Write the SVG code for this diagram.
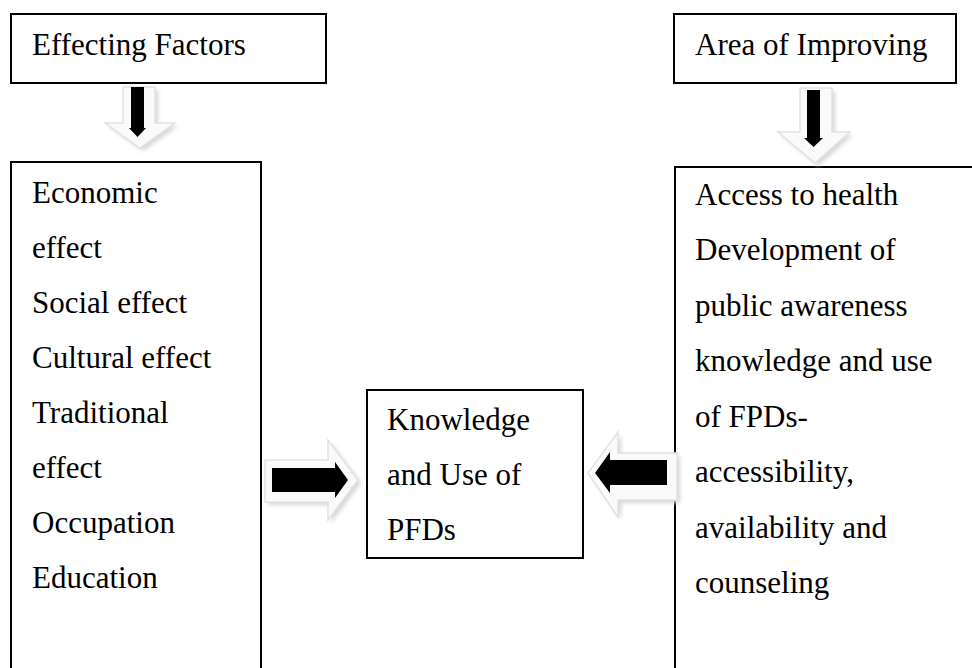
<svg xmlns="http://www.w3.org/2000/svg" width="972" height="668" viewBox="0 0 972 668">
<defs>
<style>
.box{fill:#fff;stroke:#000;stroke-width:2}
text{font-family:'Liberation Serif','Times New Roman',Times,serif;font-size:31px;fill:#000}
.outer{fill:#fafafa;stroke:#e2e2e2;stroke-width:1.5}
.shadow{fill:#d6d6d6;filter:url(#blur)}
.inner{fill:#000}
</style>
<filter id="blur" x="-20%" y="-20%" width="140%" height="140%"><feGaussianBlur stdDeviation="2"/></filter>
</defs>
<rect width="972" height="668" fill="#fff"/>
<g font-family="Liberation Serif, Times New Roman, serif" font-size="31">
<g id="effecting-factors">
<rect class="box" x="11" y="14" width="315" height="69"/>
<text x="32" y="55">Effecting Factors</text>
</g>
<g id="area-of-improving">
<rect class="box" x="674" y="14" width="282" height="69"/>
<text x="695" y="55">Area of Improving</text>
</g>
<g id="factors-list">
<rect class="box" x="11" y="162" width="250" height="520"/>
<text x="32" y="203">Economic</text>
<text x="32" y="258">effect</text>
<text x="32" y="313">Social effect</text>
<text x="32" y="368">Cultural effect</text>
<text x="32" y="423">Traditional</text>
<text x="32" y="478">effect</text>
<text x="32" y="533">Occupation</text>
<text x="32" y="588">Education</text>
</g>
<g id="improving-list">
<rect class="box" x="675" y="167" width="320" height="520"/>
<text x="695" y="205">Access to health</text>
<text x="695" y="260">Development of</text>
<text x="695" y="316">public awareness</text>
<text x="695" y="371">knowledge and use</text>
<text x="695" y="427">of FPDs-</text>
<text x="695" y="482">accessibility,</text>
<text x="695" y="538">availability and</text>
<text x="695" y="593">counseling</text>
</g>
<g id="knowledge-use">
<rect class="box" x="367" y="390" width="216" height="168"/>
<text x="387" y="430">Knowledge</text>
<text x="387" y="485">and Use of</text>
<text x="387" y="540">PFDs</text>
</g>
</g>
<g id="connectors">
<g id="arrow-left-down">
<polygon class="shadow" points="126,90 158,90 158,126 178,126 143,151 108,126 126,126"/>
<polygon class="outer" points="123,87 155,87 155,123 175,123 140,148 105,123 123,123"/>
<polygon class="inner" points="131,87 144,87 144,128 146,128 137.5,137 129,128 131,128"/>
</g>
<g id="arrow-right-down">
<polygon class="shadow" points="803,91 835,91 835,135 853,135 818,166 781,135 803,135"/>
<polygon class="outer" points="800,88 832,88 832,132 850,132 815,163 778,132 800,132"/>
<polygon class="inner" points="807,90 820,90 820,138 823,138 813.5,147 804,138 807,138"/>
</g>
<g id="arrow-right">
<polygon class="shadow" points="268,463 331,463 331,443 361,483 331,523 331,505 268,505"/>
<polygon class="outer" points="265,460 328,460 328,440 358,480 328,520 328,502 265,502"/>
<polygon class="inner" points="272,468 335,468 335,462 348,480 335,498 335,492 272,492"/>
</g>
<g id="arrow-left">
<polygon class="shadow" points="680,456 621,456 621,435 591,476 621,520 621,503 680,503"/>
<polygon class="outer" points="677,453 618,453 618,432 588,473 618,517 618,500 677,500"/>
<polygon class="inner" points="667,460 610,460 610,452 595,473 610,493 610,485 667,485"/>
</g>
</g>
</svg>
